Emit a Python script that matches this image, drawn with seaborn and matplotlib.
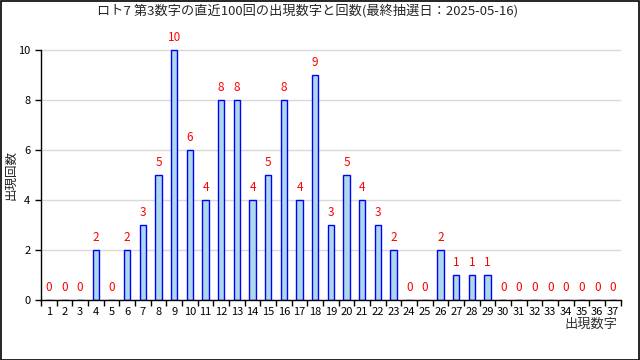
import matplotlib
matplotlib.use("Agg")
import matplotlib.pyplot as plt
import seaborn as sns
import pandas as pd
import numpy as np
from matplotlib.patches import Rectangle

numbers = [str(i) for i in range(1, 38)]
counts = [0, 0, 0, 2, 0, 2, 3, 5, 10, 6, 4, 8, 8, 4, 5, 8, 4, 9, 3, 5, 4, 3, 2, 0, 0, 2, 1, 1, 1, 0, 0, 0, 0, 0, 0, 0, 0]
title = "ロト7 第3数字の直近100回の出現数字と回数(最終抽選日：2025-05-16)"

sns.set_theme(style="white")
plt.rcParams['font.family'] = ['Noto Sans CJK JP', 'DejaVu Sans']

df = pd.DataFrame({"num": numbers, "count": counts})
fig = plt.figure(figsize=(6.4, 3.6), dpi=100)
ax = fig.add_axes([0.064, 0.1667, 0.906, 0.764])
sns.barplot(data=df, x="num", y="count", color="lightblue", edgecolor="blue",
            linewidth=1, width=0.4, saturation=1, ax=ax)
ax.set_ylim(0, 11)
ax.set_xlim(-0.5, len(numbers) - 0.5)
ax.set_yticks([0, 2, 4, 6, 8, 10])
ax.yaxis.grid(True, color="#d9d9d9", linewidth=1)
ax.set_axisbelow(True)
for s in ["top", "right"]:
    ax.spines[s].set_visible(False)
for s in ["left", "bottom"]:
    ax.spines[s].set_color("black")
    ax.spines[s].set_linewidth(1)
ax.spines["left"].set_bounds(0, 10)
ax.set_xticks(np.arange(-0.5, len(numbers), 1), minor=True)
ax.tick_params(axis="x", which="major", length=0, labelsize=8, pad=5, colors="black")
ax.tick_params(axis="x", which="minor", length=4, width=1, color="black", bottom=True)
ax.tick_params(axis="y", which="major", length=4, width=1, left=True, labelsize=8, colors="black")
for i, c in enumerate(counts):
    ax.annotate(str(c), (i, c), xytext=(0, 4), textcoords="offset points",
                ha="center", va="bottom", color="red", fontsize=8.5)
ax.set_xlabel("")
ax.set_ylabel("")
fig.text(0.017, 0.514, "出現回数", rotation=90, ha="center", va="center", fontsize=9, color="#222222")
fig.text(0.965, 0.098, "出現数字", ha="right", va="center", fontsize=9.5, color="#333333")
fig.suptitle(title, x=0.48, y=0.99, fontsize=9.5)
fig.patches.append(Rectangle((0.001, 0.001), 0.997, 0.996, transform=fig.transFigure,
                             fill=False, edgecolor="black", linewidth=1.2))
fig.savefig("out.png", dpi=100)
